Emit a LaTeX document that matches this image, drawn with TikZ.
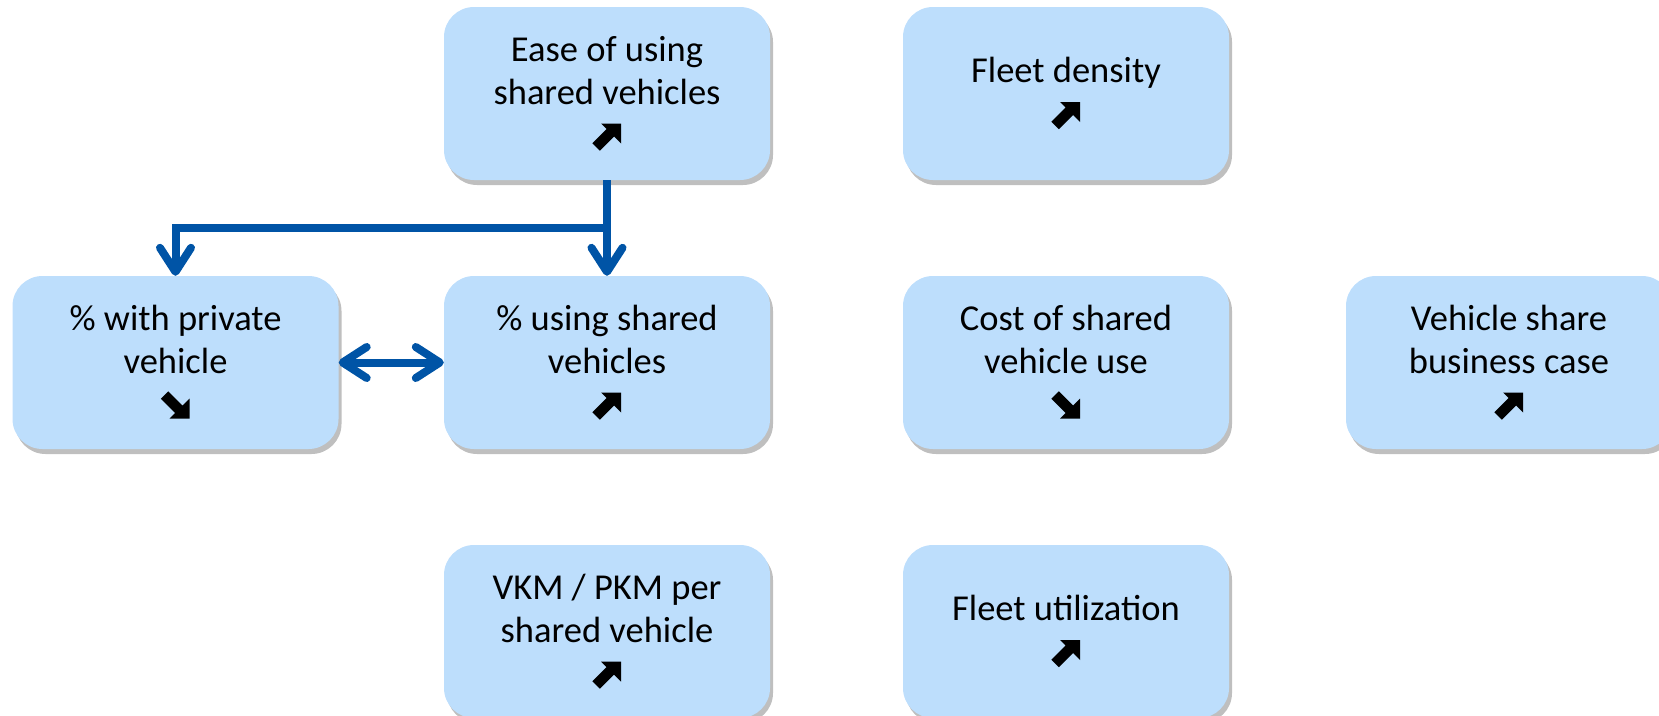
\documentclass[tikz,border=0pt]{standalone}
\usepackage{fontspec}
\setmainfont{Carlito}
\usetikzlibrary{arrows.meta,shadows}

\definecolor{boxfill}{RGB}{189,222,252}
\definecolor{linkblue}{RGB}{0,84,166}

\tikzset{
  factor/.style={
    rounded corners=30pt, fill=boxfill, draw=none,
    minimum width=326pt, minimum height=173pt,
    inner sep=0pt, align=center,
    font=\fontsize{36.5}{43}\selectfont,
    drop shadow={shadow xshift=3pt, shadow yshift=-5pt, fill=black, opacity=0.25}
  },
  linkbarb/.tip={Straight Barb[length=24pt, width=31pt, round]},
  link/.style={
    line width=8pt, draw=linkblue, -{linkbarb}
  },
  twoway/.style={
    line width=8pt, draw=linkblue, {linkbarb}-{linkbarb}
  },
  % heavy trend arrows, centred on the pic origin (y axis points down)
  trendup/.pic={
    \fill[black] (14,-13)--(-6,-13)--(-0.4,-7.4)--(-14.6,6.8)--(-7.2,14.2)--(7,0)--(14,7)--cycle;
  },
  trenddown/.pic={
    \fill[black] (14,13)--(-6,13)--(-0.4,7.4)--(-14.6,-6.8)--(-7.2,-14.2)--(7,0)--(14,-7)--cycle;
  }
}

% room reserved for the trend arrow on the last text line
\newcommand{\trendslot}{\rule{0pt}{26pt}}

\begin{document}
\begin{tikzpicture}[x=1pt,y=-1pt]
  \useasboundingbox (0,0) rectangle (1659,715);

  % top row
  \node[factor] (ease) at (607,93.5) {Ease of using\\shared vehicles\\[4pt]\trendslot};
  \node[factor] (density) at (1066,93.5) {Fleet density\\[4pt]\trendslot};

  % middle row
  \node[factor] (private) at (175.5,362.5) {\% with private\\vehicle\\[4pt]\trendslot};
  \node[factor] (using) at (607,362.5) {\% using shared\\vehicles\\[4pt]\trendslot};
  \node[factor] (cost) at (1066,362.5) {Cost of shared\\vehicle use\\[4pt]\trendslot};
  \node[factor] (business) at (1509,362.5) {Vehicle share\\business case\\[4pt]\trendslot};

  % bottom row
  \node[factor] (vkm) at (607,631.5) {VKM / PKM per\\shared vehicle\\[4pt]\trendslot};
  \node[factor] (util) at (1066,631.5) {Fleet utilization\\[4pt]\trendslot};

  % trend arrows
  \pic at ([yshift=-43pt]ease.center) {trendup};
  \pic at ([yshift=-21.5pt]density.center) {trendup};
  \pic at ([yshift=-43pt]private.center) {trenddown};
  \pic at ([yshift=-43pt]using.center) {trendup};
  \pic at ([yshift=-43pt]cost.center) {trenddown};
  \pic at ([yshift=-43pt]business.center) {trendup};
  \pic at ([yshift=-43pt]vkm.center) {trendup};
  \pic at ([yshift=-21.5pt]util.center) {trendup};

  % connectors
  \coordinate (split) at (607,228);
  \draw[link] (ease.south) -- (using.north);
  \draw[link, line join=miter] (split) -| (private.north);
  \draw[twoway] (private.east) -- (using.west);
\end{tikzpicture}
\end{document}
